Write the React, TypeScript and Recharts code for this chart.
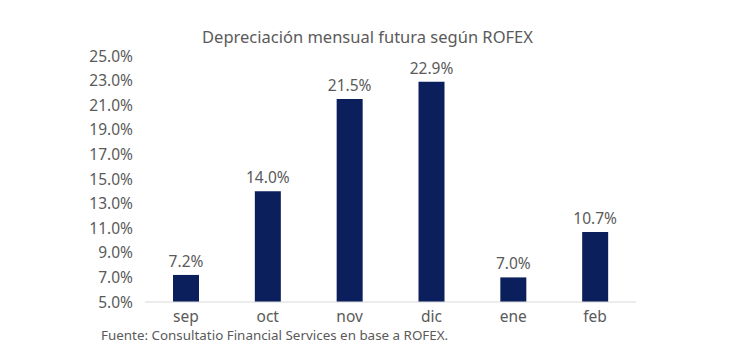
import { BarChart, Bar, XAxis, YAxis, LabelList } from "recharts";

const months = ["sep", "oct", "nov", "dic", "ene", "feb"];
const depreciation = [7.2, 14.0, 21.5, 22.9, 7.0, 10.7];
const yTicks = [5, 7, 9, 11, 13, 15, 17, 19, 21, 23, 25];

const data = months.map((m, i) => ({ month: m, value: depreciation[i] }));

const FONT = "'Noto Sans', sans-serif";
const GRAY = "#5a5a5a";
const NAVY = "#0b1f5c";

const pct = (v: number) => `${v.toFixed(1)}%`;

export default function App() {
  return (
    <div
      style={{
        position: "absolute",
        left: 0,
        top: 0,
        width: 730,
        height: 348,
        background: "#fff",
        fontFamily: FONT,
      }}
    >
      <div
        style={{
          position: "absolute",
          top: 25,
          left: 0,
          width: 735,
          textAlign: "center",
          fontSize: 16.5,
          color: GRAY,
          lineHeight: "24px",
        }}
      >
        Depreciación mensual futura según ROFEX
      </div>
      <BarChart
        width={730}
        height={348}
        data={data}
        margin={{ top: 56, right: 94, bottom: 16, left: 0 }}
        barSize={26}
      >
        <XAxis
          dataKey="month"
          tickLine={false}
          axisLine={{ stroke: "#d9d9d9" }}
          tick={{ fill: GRAY, fontSize: 15.5, fontFamily: FONT }}
          tickSize={0}
          tickMargin={9}
          height={30}
        />
        <YAxis
          width={145}
          domain={[5, 25]}
          ticks={yTicks}
          interval={0}
          tickFormatter={pct}
          axisLine={false}
          tickLine={false}
          tickSize={0}
          tickMargin={12}
          tick={{ fill: GRAY, fontSize: 15.5, fontFamily: FONT }}
        />
        <Bar dataKey="value" fill={NAVY} isAnimationActive={false}>
          <LabelList
            dataKey="value"
            position="top"
            offset={8}
            formatter={(v: any) => pct(Number(v))}
            style={{ fill: GRAY, fontSize: 15.5, fontFamily: FONT }}
          />
        </Bar>
      </BarChart>
      <div
        style={{
          position: "absolute",
          top: 325,
          left: 101,
          fontSize: 13.4,
          color: GRAY,
          lineHeight: "20px",
          whiteSpace: "nowrap",
        }}
      >
        Fuente: Consultatio Financial Services en base a ROFEX.
      </div>
    </div>
  );
}
